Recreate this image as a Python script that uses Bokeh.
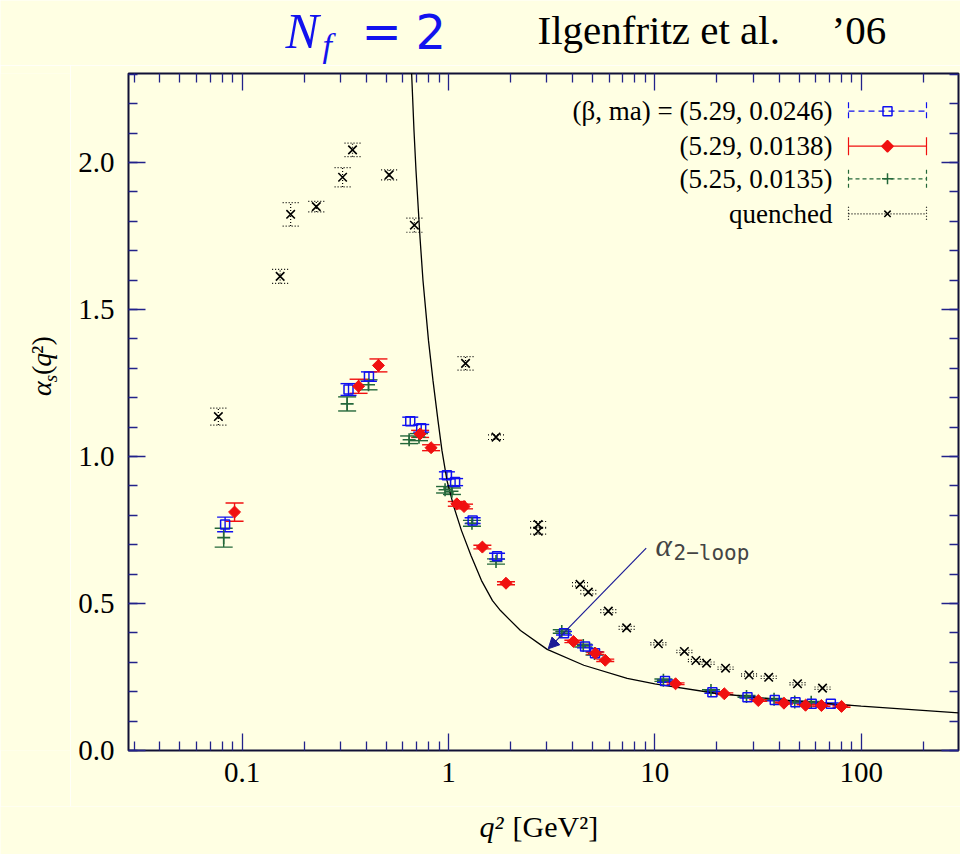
import numpy as np
from bokeh.plotting import figure
from bokeh.layouts import column, row
from bokeh.core.properties import value
from bokeh.models import (Range1d, FixedTicker, LogAxis, LinearAxis, CustomJSTickFormatter,
                          Label, Arrow, NormalHead, Whisker, TeeHead, ColumnDataSource)
from bokeh.embed import file_html
from bokeh.resources import INLINE

# ---------------- data ----------------
# (beta, ma) = (5.29, 0.0246)  blue squares
blue_q2 = [0.0828, 0.328, 0.412, 0.653, 0.738, 0.983, 1.077, 1.31, 1.72, 3.63, 4.59, 5.13,
           11.2, 19.0, 28.1, 38.1, 48.0, 57.5, 71.2]
blue_a = [0.769, 1.228, 1.272, 1.120, 1.096, 0.936, 0.913, 0.782, 0.661, 0.399, 0.354, 0.331,
          0.236, 0.198, 0.181, 0.172, 0.164, 0.159, 0.159]
blue_err = [0.025, 0.020, 0.016, 0.014, 0.013, 0.012, 0.012, 0.010, 0.010, 0.006, 0.005, 0.005,
            0.004, 0.003, 0.003, 0.003, 0.003, 0.003, 0.003]

# (5.29, 0.0138)  red diamonds
red_q2 = [0.092, 0.367, 0.458, 0.729, 0.824, 1.098, 1.19, 1.46, 1.90, 4.03, 5.15, 5.75,
          12.6, 21.7, 31.7, 42.2, 53.7, 64.1, 80.2]
red_a = [0.811, 1.239, 1.310, 1.077, 1.030, 0.839, 0.830, 0.692, 0.569, 0.371, 0.331, 0.307,
         0.227, 0.193, 0.170, 0.161, 0.154, 0.153, 0.150]
red_err = [0.031, 0.024, 0.022, 0.012, 0.010, 0.008, 0.008, 0.006, 0.005, 0.004, 0.004, 0.004,
           0.003, 0.003, 0.003, 0.003, 0.003, 0.003, 0.003]

# (5.25, 0.0135)  green pluses
green_q2 = [0.0815, 0.323, 0.41, 0.645, 0.72, 0.963, 1.04, 1.30, 1.70, 3.54, 4.50, 5.10,
            11.0, 18.7, 27.8, 37.8, 47.6, 57.2]
green_a = [0.724, 1.179, 1.244, 1.057, 1.066, 0.887, 0.882, 0.773, 0.643, 0.405, 0.357, 0.330,
           0.239, 0.204, 0.184, 0.174, 0.165, 0.164]
green_err = [0.032, 0.024, 0.017, 0.013, 0.012, 0.011, 0.011, 0.010, 0.009, 0.006, 0.005, 0.005,
             0.004, 0.003, 0.003, 0.003, 0.003, 0.003]

# quenched  black crosses
q_q2 = [0.0768, 0.153, 0.172, 0.229, 0.307, 0.343, 0.516, 0.684, 1.21, 1.70, 2.72, 2.72,
        4.34, 4.76, 5.95, 7.30, 10.4, 13.9, 15.8, 17.8, 22.0, 28.6, 35.6, 49.1, 64.9]
q_a = [1.136, 1.613, 1.824, 1.850, 1.950, 2.043, 1.958, 1.787, 1.317, 1.066, 0.769, 0.746,
       0.565, 0.539, 0.474, 0.417, 0.363, 0.337, 0.306, 0.297, 0.280, 0.257, 0.249, 0.227, 0.212]
q_err = [0.029, 0.024, 0.040, 0.018, 0.033, 0.023, 0.017, 0.024, 0.023, 0.008, 0.010, 0.010,
         0.006, 0.006, 0.005, 0.005, 0.004, 0.004, 0.004, 0.004, 0.004, 0.004, 0.004, 0.004, 0.004]

# alpha_2-loop curve
curve_q2 = [0.6623, 0.6809, 0.6963, 0.7281, 0.7528, 0.8003, 0.8415, 0.8900, 0.9304, 0.9840,
            1.0578, 1.1566, 1.2857, 1.4459, 1.6345, 1.7871, 2.2336, 3.0085, 4.526, 7.342,
            9.993, 20.04, 40.0, 99.9, 296.0]
curve_a = [2.313, 2.109, 1.973, 1.745, 1.599, 1.395, 1.259, 1.122, 1.020, 0.918,
           0.833, 0.748, 0.663, 0.578, 0.510, 0.476, 0.408, 0.344, 0.290, 0.2456,
           0.2269, 0.1939, 0.173, 0.1507, 0.128]

x_ticks = [0.1, 1, 10, 100]
x_minor = [m * 10.0 ** e for e in range(-2, 3) for m in range(2, 10)]
y_ticks = [0.0, 0.5, 1.0, 1.5, 2.0]
y_minor = [k / 10 for k in range(0, 24)]

legend_labels = ["(β, ma) = (5.29, 0.0246)", "(5.29, 0.0138)", "(5.25, 0.0135)", "quenched"]

# ---------------- page geometry ----------------
BG = "#ffffe3"
PW, PH = 960, 854
TOP_H = 65            # title strip
BOT_H = 48            # x-label strip
LEFT_W = 70           # y-label strip
MID_H = PH - TOP_H - BOT_H
FL, FR, FT, FB = 128.0, 958.0, 73.0, 750.0   # plot frame, page pixels
LX0, LX1 = -1.55, 2.471
Y0, Y1 = 0.0, 2.303
SHIFT = 0.32          # rendered baseline sits this many em below the requested one


def dx(px):
    return 10 ** (LX0 + (px - FL) / (FR - FL) * (LX1 - LX0))


def dy(py):
    return Y0 + (FB - py) / (FB - FT) * (Y1 - Y0)


MW = PW - LEFT_W
p = figure(width=MW, height=MID_H, x_axis_type="log",
           x_range=Range1d(10 ** LX0, 10 ** LX1), y_range=Range1d(Y0, Y1),
           output_backend="svg", toolbar_location=None,
           min_border_left=int(FL - LEFT_W), min_border_right=int(PW - FR),
           min_border_top=int(FT - TOP_H), min_border_bottom=int(TOP_H + MID_H - FB))
p.background_fill_color = BG
p.border_fill_color = BG
p.outline_line_color = "#101035"
p.outline_line_width = 2
p.xgrid.visible = False
p.ygrid.visible = False

TICKC = "#22228a"
xt = FixedTicker(ticks=x_ticks, minor_ticks=x_minor)
yt = FixedTicker(ticks=y_ticks, minor_ticks=y_minor)


def style_axis(ax, ticker, fmt, show):
    ax.ticker = ticker
    ax.formatter = fmt
    ax.axis_line_color = None
    ax.major_tick_line_color = TICKC
    ax.minor_tick_line_color = TICKC
    ax.major_tick_line_width = 1.3
    ax.minor_tick_line_width = 1.3
    ax.major_tick_in = 17
    ax.major_tick_out = 0
    ax.minor_tick_in = 9
    ax.minor_tick_out = 0
    if show:
        ax.major_label_text_font = "Liberation Serif"
        ax.major_label_text_font_size = "29px"
        ax.major_label_text_color = "black"
    else:
        ax.major_label_text_font_size = "0px"
        ax.major_label_standoff = 0


xfmt = CustomJSTickFormatter(code="return tick < 0.5 ? tick.toFixed(1) : tick.toFixed(0);")
yfmt = CustomJSTickFormatter(code="return tick.toFixed(1);")
style_axis(p.xaxis[0], xt, xfmt, True)
p.xaxis[0].major_label_standoff = 12
style_axis(p.yaxis[0], yt, yfmt, True)
p.yaxis[0].major_label_standoff = 14

top = LogAxis()
style_axis(top, xt, CustomJSTickFormatter(code="return '';"), False)
p.add_layout(top, "above")
right = LinearAxis()
style_axis(right, yt, CustomJSTickFormatter(code="return '';"), False)
p.add_layout(right, "right")

# ---------------- curve ----------------
p.line(curve_q2, curve_a, line_color="black", line_width=1.3)

# ---------------- series ----------------
BLUE, RED, GREEN, BLACK = "#1010f0", "#f01010", "#24683a", "black"


def errbars(xs, ys, es, color, cap, dash="solid", lw=1.4):
    src = ColumnDataSource(dict(x=xs, upper=[a + e for a, e in zip(ys, es)],
                                lower=[a - e for a, e in zip(ys, es)]))
    w = Whisker(source=src, base="x", upper="upper", lower="lower", dimension="height",
                line_color=color, line_width=lw, line_dash=dash,
                upper_head=TeeHead(size=cap, line_color=color, line_width=lw, line_dash=dash),
                lower_head=TeeHead(size=cap, line_color=color, line_width=lw, line_dash=dash))
    p.add_layout(w)


errbars(q_q2, q_a, q_err, BLACK, 16, dash="1 2", lw=1.2)
errbars(green_q2, green_a, green_err, GREEN, 18)
errbars(blue_q2, blue_a, blue_err, BLUE, 16)
errbars(red_q2, red_a, red_err, RED, 18)

p.scatter(q_q2, q_a, marker="x", size=12, line_color=BLACK, line_width=1.6)
p.scatter(green_q2, green_a, marker="cross", size=13, line_color=GREEN, line_width=1.6)
p.scatter(blue_q2, blue_a, marker="square", size=9, fill_color=None, line_color=BLUE, line_width=1.5)
p.scatter(red_q2, red_a, marker="square", angle=np.pi / 4, size=8.5, fill_color=RED, line_color=RED,
          line_width=1.0)

# ---------------- legend (drawn by hand: label left of sample) ----------------
leg_rows = [110.7, 145.7, 178.3, 213.3]
leg_styles = [(BLUE, "6 4", "square", None, 9, 0.0, 9),
              (RED, "solid", "square", RED, 8, np.pi / 4, 9),
              (GREEN, "4 3", "cross", None, 11, 0.0, 9),
              (BLACK, "1 2", "x", None, 9, 0.0, 7)]
LEG_FS = 27
for rw, lab_txt, (col, dash, mk, fill, sz, ang, cap) in zip(leg_rows, legend_labels, leg_styles):
    yl = dy(rw)
    p.segment(x0=[dx(848)], y0=[yl], x1=[dx(926)], y1=[yl], line_color=col, line_width=1.2,
              line_dash=dash)
    p.segment(x0=[dx(848), dx(926)], y0=[dy(rw - cap)] * 2, x1=[dx(848), dx(926)],
              y1=[dy(rw + cap)] * 2, line_color=col, line_width=1.2, line_dash=dash)
    p.scatter([dx(887)], [yl], marker=mk, size=sz, angle=ang, fill_color=fill, line_color=col,
              line_width=1.5)
    p.add_layout(Label(x=dx(832), y=dy(rw + 8.4 - SHIFT * LEG_FS), text=lab_txt,
                       text_font="Liberation Serif", text_font_size=f"{LEG_FS}px",
                       text_align="right", text_baseline="alphabetic", text_color="black"))

# alpha_2-loop annotation (inside the frame)
NAVY = "#1c1c96"
p.add_layout(Arrow(end=NormalHead(size=11, fill_color=NAVY, line_color=NAVY),
                   x_start=dx(645.7), y_start=dy(547.7), x_end=dx(547.7), y_end=dy(648.3),
                   line_color=NAVY, line_width=1.2))
p.add_layout(Label(x=dx(655), y=dy(555 - SHIFT * 31), text="α", text_font="Liberation Serif",
                   text_font_style="italic", text_font_size="31px", text_baseline="alphabetic"))
p.add_layout(Label(x=dx(673), y=dy(559 - SHIFT * 21), text="2−loop", text_font="DejaVu Sans Mono",
                   text_font_size="21px", text_baseline="alphabetic"))


# ---------------- text strips around the plot ----------------
def strip(w, h):
    f = figure(width=w, height=h, x_range=Range1d(0, w), y_range=Range1d(0, h),
               output_backend="svg", toolbar_location=None, min_border=0,
               x_axis_location=None, y_axis_location=None)
    f.grid.visible = False
    f.outline_line_color = None
    f.background_fill_color = BG
    f.border_fill_color = BG
    return f


def put(f, x0, y0, h, text, px, py, size, font="Liberation Serif", style="normal",
        color="black", rotated=False):
    # (px, py): wanted baseline start in page pixels
    if rotated:
        px = px - SHIFT * size
    else:
        py = py - SHIFT * size
    f.text(x=[px - x0], y=[h - (py - y0)], text=[text], text_font=value(font),
           text_font_size=value(f"{size}px"), text_font_style=value(style),
           text_color=value(color), text_align=value("left"),
           text_baseline=value("alphabetic"), angle=(np.pi / 2 if rotated else 0.0))


# title strip (page y 0 .. TOP_H)
tf = strip(PW, TOP_H)
TB = "#1212ee"
put(tf, 0, 0, TOP_H, "N", 285, 46, 50, style="italic", color=TB)
put(tf, 0, 0, TOP_H, "f", 322, 56, 34, style="italic", color=TB)
put(tf, 0, 0, TOP_H, "=", 361, 46, 48, font="DejaVu Sans", color=TB)
put(tf, 0, 0, TOP_H, "2", 415, 46, 48, font="DejaVu Sans", color=TB)
put(tf, 0, 0, TOP_H, "Ilgenfritz et al.", 537, 43, 41)
put(tf, 0, 0, TOP_H, "’06", 831, 43, 41)

# y-label strip (page x 0 .. LEFT_W, y TOP_H .. TOP_H+MID_H)
lf = strip(LEFT_W, MID_H)
put(lf, 0, TOP_H, MID_H, "α", 50, 418, 28, style="italic", rotated=True)
put(lf, 0, TOP_H, MID_H, "s", 56, 403, 19, style="italic", rotated=True)
put(lf, 0, TOP_H, MID_H, "(", 50, 395, 28, rotated=True)
put(lf, 0, TOP_H, MID_H, "q", 50, 386, 28, style="italic", rotated=True)
put(lf, 0, TOP_H, MID_H, "²)", 50, 372, 28, rotated=True)

# x-label strip (page y TOP_H+MID_H .. PH)
bf = strip(PW, BOT_H)
Y_B = TOP_H + MID_H
put(bf, 0, Y_B, BOT_H, "q²", 479, 836, 30, style="italic")
put(bf, 0, Y_B, BOT_H, "[GeV²]", 512, 836, 30)

page = column(tf, row(lf, p), bf)
open("out.html", "w").write(file_html(page, INLINE))
